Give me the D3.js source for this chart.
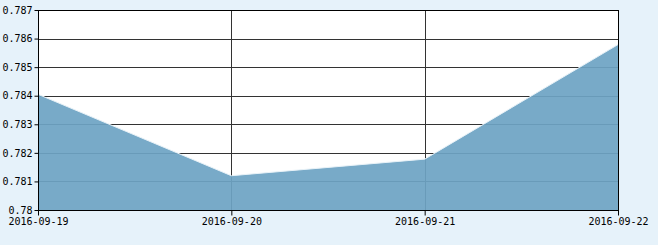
<!DOCTYPE html>
<html>
<head>
<meta charset="utf-8">
<script src="https://cdn.jsdelivr.net/npm/d3@7"></script>
<style>
  html, body { margin: 0; padding: 0; background: #e6f2fa; }
  svg { display: block; }
  .tick text { font-family: "DejaVu Sans Mono", monospace; font-size: 10px; fill: #000; }
</style>
</head>
<body>
<svg width="658" height="245"></svg>
<script>
// values
const dates = ["2016-09-19", "2016-09-20", "2016-09-21", "2016-09-22"];
const rates = [0.78405, 0.7812, 0.78178, 0.78579];
const yTicks = [0.78, 0.781, 0.782, 0.783, 0.784, 0.785, 0.786, 0.787];

const svg = d3.select("svg");
const margin = {top: 10, right: 40, bottom: 35, left: 38};
const width = svg.attr("width") - margin.left - margin.right;
const height = svg.attr("height") - margin.top - margin.bottom;

const g = svg.append("g")
  .attr("transform", "translate(" + margin.left + "," + margin.top + ")");

const x = d3.scalePoint().domain(dates).range([0, width]);
const y = d3.scaleLinear().domain([0.78, 0.787]).range([height, 0]);

// plot background
g.append("rect")
  .attr("width", width)
  .attr("height", height)
  .attr("fill", "#fff");

// grid lines
g.selectAll(".hgrid")
  .data(yTicks.slice(1, -1))
  .enter().append("line")
  .attr("x1", 0).attr("x2", width)
  .attr("y1", d => Math.round(y(d)) + 0.5)
  .attr("y2", d => Math.round(y(d)) + 0.5)
  .attr("stroke", "#333");

g.selectAll(".vgrid")
  .data(dates.slice(1, -1))
  .enter().append("line")
  .attr("x1", d => Math.round(x(d)) + 0.5)
  .attr("x2", d => Math.round(x(d)) + 0.5)
  .attr("y1", 0).attr("y2", height)
  .attr("stroke", "#333");

// area
const area = d3.area()
  .x((d, i) => x(dates[i]))
  .y0(height)
  .y1(d => y(d));

g.append("path")
  .datum(rates)
  .attr("d", area)
  .attr("fill", "#6ea4c4")
  .attr("fill-opacity", 0.93);

g.append("path")
  .datum(rates)
  .attr("d", d3.line().x((d, i) => x(dates[i])).y(d => y(d)))
  .attr("fill", "none")
  .attr("stroke", "#e8f2f8")
  .attr("stroke-width", 1);

// frame
g.append("rect")
  .attr("x", 0.5).attr("y", 0.5)
  .attr("width", width).attr("height", height)
  .attr("fill", "none")
  .attr("stroke", "#000");

// axes
g.append("g")
  .attr("transform", "translate(0.5,0)")
  .call(d3.axisLeft(y).tickValues(yTicks).tickSize(4).tickPadding(2)
    .tickFormat(d => String(+d.toFixed(3))))
  .call(a => a.select(".domain").remove());

g.append("g")
  .attr("transform", "translate(0," + (height + 0.5) + ")")
  .call(d3.axisBottom(x).tickSize(5).tickPadding(2))
  .call(a => a.select(".domain").remove());

g.selectAll(".tick line").attr("stroke", "#000");
</script>
</body>
</html>
